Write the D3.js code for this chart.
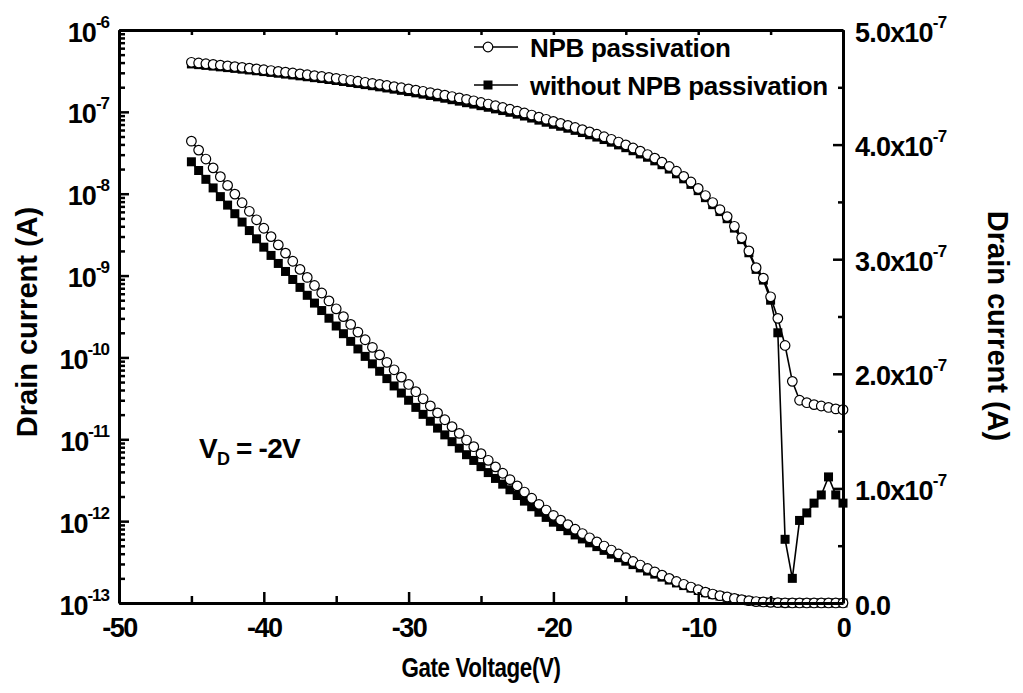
<!DOCTYPE html>
<html><head><meta charset="utf-8">
<script src="https://cdn.jsdelivr.net/npm/d3@7"></script>
<style>
body{margin:0;background:#fff;}
svg text{font-family:"Liberation Sans",Arial,sans-serif;font-weight:bold;fill:#000;}
</style></head><body>
<svg id="c" width="1023" height="693"></svg>
<script>
// ---------------- data ----------------
const gateVoltage = [
 -45,-44.5,-44,-43.5,-43,-42.5,-42,-41.5,-41,-40.5,
 -40,-39.5,-39,-38.5,-38,-37.5,-37,-36.5,-36,-35.5,
 -35,-34.5,-34,-33.5,-33,-32.5,-32,-31.5,-31,-30.5,
 -30,-29.5,-29,-28.5,-28,-27.5,-27,-26.5,-26,-25.5,
 -25,-24.5,-24,-23.5,-23,-22.5,-22,-21.5,-21,-20.5,
 -20,-19.5,-19,-18.5,-18,-17.5,-17,-16.5,-16,-15.5,
 -15,-14.5,-14,-13.5,-13,-12.5,-12,-11.5,-11,-10.5,
 -10,-9.5,-9,-8.5,-8,-7.5,-7,-6.5,-6,-5.5,
 -5,-4.5,-4,-3.5,-3,-2.5,-2,-1.5,-1,-0.5,
 0];
const npbCurrent = [
 4.030e-7,3.952e-7,3.874e-7,3.797e-7,3.720e-7,3.644e-7,3.568e-7,3.493e-7,3.418e-7,3.344e-7,
 3.270e-7,3.197e-7,3.125e-7,3.053e-7,2.982e-7,2.911e-7,2.841e-7,2.771e-7,2.705e-7,2.636e-7,
 2.567e-7,2.499e-7,2.431e-7,2.364e-7,2.297e-7,2.231e-7,2.165e-7,2.100e-7,2.035e-7,1.971e-7,
 1.907e-7,1.844e-7,1.782e-7,1.720e-7,1.659e-7,1.599e-7,1.539e-7,1.480e-7,1.422e-7,1.364e-7,
 1.303e-7,1.245e-7,1.188e-7,1.132e-7,1.077e-7,1.022e-7,0.968e-7,0.914e-7,0.861e-7,0.811e-7,
 0.765e-7,0.723e-7,0.684e-7,0.644e-7,0.606e-7,0.569e-7,0.533e-7,0.497e-7,0.462e-7,0.428e-7,
 0.395e-7,0.362e-7,0.331e-7,0.301e-7,0.272e-7,0.243e-7,0.215e-7,0.188e-7,0.163e-7,0.139e-7,
 0.116e-7,0.095e-7,0.078e-7,0.064e-7,0.0525e-7,0.040e-7,0.029e-7,0.020e-7,0.0125e-7,0.0093e-7,
 0.0055e-7,0.0030e-7,0.0014e-7,0.00051e-7,0.00030e-7,0.00028e-7,0.000265e-7,0.000255e-7,0.000245e-7,0.000235e-7,
 0.00023e-7];
const withoutNpbCurrent = [
 3.850e-7,3.774e-7,3.697e-7,3.622e-7,3.546e-7,3.472e-7,3.397e-7,3.324e-7,3.250e-7,3.178e-7,
 3.105e-7,3.033e-7,2.963e-7,2.893e-7,2.823e-7,2.754e-7,2.685e-7,2.617e-7,2.552e-7,2.485e-7,
 2.417e-7,2.350e-7,2.283e-7,2.217e-7,2.152e-7,2.087e-7,2.022e-7,1.958e-7,1.894e-7,1.832e-7,
 1.769e-7,1.707e-7,1.646e-7,1.586e-7,1.526e-7,1.467e-7,1.408e-7,1.351e-7,1.294e-7,1.244e-7,
 1.190e-7,1.138e-7,1.087e-7,1.037e-7,0.988e-7,0.938e-7,0.889e-7,0.840e-7,0.792e-7,0.747e-7,
 0.705e-7,0.667e-7,0.631e-7,0.594e-7,0.559e-7,0.525e-7,0.492e-7,0.459e-7,0.426e-7,0.395e-7,
 0.365e-7,0.335e-7,0.306e-7,0.279e-7,0.252e-7,0.226e-7,0.200e-7,0.175e-7,0.152e-7,0.130e-7,
 0.109e-7,0.0895e-7,0.0735e-7,0.0605e-7,0.0495e-7,0.038e-7,0.0275e-7,0.019e-7,0.0119e-7,0.0088e-7,
 0.0050e-7,0.0020e-7,0.0000060e-7,0.0000020e-7,0.0000102e-7,0.0000126e-7,0.0000166e-7,0.0000209e-7,0.0000347e-7,0.0000209e-7,
 0.0000166e-7];
const seriesNames = ["NPB passivation", "without NPB passivation"];
const xMajorTicks = [-50,-40,-30,-20,-10,0];
const xMinorTicks = [-45,-35,-25,-15,-5];
const leftTickExponents = [-13,-12,-11,-10,-9,-8,-7,-6];
const rightMajorTicks = [0,1e-7,2e-7,3e-7,4e-7,5e-7];
const rightMinorTicks = [0.5e-7,1.5e-7,2.5e-7,3.5e-7,4.5e-7];
const rightTickMantissas = ["0.0","1.0","2.0","3.0","4.0","5.0"];
const xTitle = "Gate Voltage(V)";
const yTitle = "Drain current (A)";

// ---------------- layout ----------------
const M = {left:119, right:843, top:30, bottom:603};
const svg = d3.select("#c");
const x = d3.scaleLinear().domain([-50,0]).range([M.left,M.right]);
const yLog = d3.scaleLog().domain([1e-13,1e-6]).range([M.bottom,M.top]);
const yLin = d3.scaleLinear().domain([0,5e-7]).range([M.bottom,M.top]);

const rows = gateVoltage.map((v,i)=>({v, a:npbCurrent[i], b:withoutNpbCurrent[i]}));

// ---------------- marks ----------------
const marks = svg.append("g");
function line(yScale, key){
  return d3.line().x(d=>x(d.v)).y(d=>yScale(d[key]));
}
const sets = [
  {scale:yLog, key:"a"}, {scale:yLog, key:"b"},
  {scale:yLin, key:"a"}, {scale:yLin, key:"b"}
];
sets.forEach(s=>{
  marks.append("path").datum(rows).attr("d", line(s.scale,s.key))
    .attr("fill","none").attr("stroke","#000").attr("stroke-width",1.6);
});
// squares (without NPB) beneath circles
[yLog,yLin].forEach(sc=>{
  marks.append("g").selectAll("rect").data(rows).join("rect")
    .attr("x",d=>x(d.v)-4.5).attr("y",d=>sc(d.b)-4.5)
    .attr("width",9).attr("height",9).attr("fill","#000");
});
[yLog,yLin].forEach(sc=>{
  marks.append("g").selectAll("circle").data(rows).join("circle")
    .attr("cx",d=>x(d.v)).attr("cy",d=>sc(d.a)).attr("r",4.8)
    .attr("fill","#fff").attr("stroke","#000").attr("stroke-width",1.2);
});

// ---------------- axes ----------------
function styleAxis(g, hideDomain){
  g.selectAll(".tick line").attr("stroke","#000").attr("stroke-width",2.5);
  g.select(".domain").attr("stroke","#000").attr("stroke-width",3)
    .attr("display", hideDomain ? "none" : null);
  g.selectAll(".tick text").remove();
}
// bottom
svg.append("g").attr("transform",`translate(0,${M.bottom})`)
  .call(d3.axisBottom(x).tickValues(xMinorTicks).tickSizeInner(-7).tickSizeOuter(0))
  .call(g=>styleAxis(g,true));
const gb = svg.append("g").attr("transform",`translate(0,${M.bottom})`)
  .call(d3.axisBottom(x).tickValues(xMajorTicks).tickSizeInner(-11).tickSizeOuter(0));
styleAxis(gb,false);
gb.selectAll(".tick").append("text").attr("y",34).attr("text-anchor","middle")
  .attr("font-size",27).attr("letter-spacing",-1.5).text((d,i)=>xMajorTicks[i]);
// top
svg.append("g").attr("transform",`translate(0,${M.top})`)
  .call(d3.axisTop(x).tickValues(xMajorTicks.concat(xMinorTicks)).tickSizeInner(-5).tickSizeOuter(0))
  .call(g=>styleAxis(g,false));
// left (log)
const leftMinor = [];
leftTickExponents.slice(0,-1).forEach(e=>{ for(let k=2;k<10;k++) leftMinor.push(k*Math.pow(10,e)); });
svg.append("g").attr("transform",`translate(${M.left},0)`)
  .call(d3.axisLeft(yLog).tickValues(leftMinor).tickSizeInner(-6).tickSizeOuter(0))
  .call(g=>styleAxis(g,true));
const gl = svg.append("g").attr("transform",`translate(${M.left},0)`)
  .call(d3.axisLeft(yLog).tickValues(leftTickExponents.map(e=>Math.pow(10,e))).tickSizeInner(-10).tickSizeOuter(0));
styleAxis(gl,false);
gl.selectAll(".tick").each(function(d,i){
  const t = d3.select(this).append("text").attr("x",-10).attr("y",11)
    .attr("text-anchor","end").attr("font-size",27).attr("letter-spacing",-1);
  t.append("tspan").text("10");
  t.append("tspan").attr("dy",-14).attr("font-size",17).text(leftTickExponents[i]);
});
// right (linear)
svg.append("g").attr("transform",`translate(${M.right},0)`)
  .call(d3.axisRight(yLin).tickValues(rightMinorTicks).tickSizeInner(-5).tickSizeOuter(0))
  .call(g=>styleAxis(g,true));
const gr = svg.append("g").attr("transform",`translate(${M.right},0)`)
  .call(d3.axisRight(yLin).tickValues(rightMajorTicks).tickSizeInner(-10).tickSizeOuter(0));
styleAxis(gr,false);
gr.selectAll(".tick").each(function(d,i){
  const t = d3.select(this).append("text").attr("x",12).attr("y",11)
    .attr("text-anchor","start").attr("font-size",27).attr("letter-spacing",-0.8);
  if(d===0){ t.text(rightTickMantissas[i]); return; }
  t.append("tspan").text(rightTickMantissas[i]+"x10");
  t.append("tspan").attr("dy",-14).attr("font-size",17).text(-7);
});

// ---------------- titles ----------------
svg.append("text").attr("transform",`translate(${(M.left+M.right)/2},677) scale(0.8,1)`)
  .attr("text-anchor","middle").attr("font-size",28).attr("letter-spacing",-0.5).text(xTitle);
svg.append("text").attr("transform",`translate(37,322) rotate(-90)`)
  .attr("text-anchor","middle").attr("font-size",29).text(yTitle);
svg.append("text").attr("transform",`translate(988,326) rotate(90)`)
  .attr("text-anchor","middle").attr("font-size",29).text(yTitle);

// ---------------- annotation ----------------
const ann = svg.append("text").attr("x",199).attr("y",458).attr("font-size",28).attr("letter-spacing",-0.8);
ann.append("tspan").text("V");
ann.append("tspan").attr("dy",7).attr("font-size",18).text("D");
ann.append("tspan").attr("dy",-7).text(" = -2V");

// ---------------- legend ----------------
const leg = svg.append("g");
seriesNames.forEach((name,i)=>{
  const cy = 47 + i*38;
  leg.append("line").attr("x1",474).attr("x2",518).attr("y1",cy).attr("y2",cy)
    .attr("stroke","#000").attr("stroke-width",1.6);
  if(i===0){
    leg.append("circle").attr("cx",488).attr("cy",cy).attr("r",4.8)
      .attr("fill","#fff").attr("stroke","#000").attr("stroke-width",1.2);
  } else {
    leg.append("rect").attr("x",483.5).attr("y",cy-4.5).attr("width",9).attr("height",9).attr("fill","#000");
  }
  leg.append("text").attr("x",530).attr("y",cy+10).attr("font-size",26).attr("letter-spacing",-0.3).text(name);
});
</script>
</body></html>
